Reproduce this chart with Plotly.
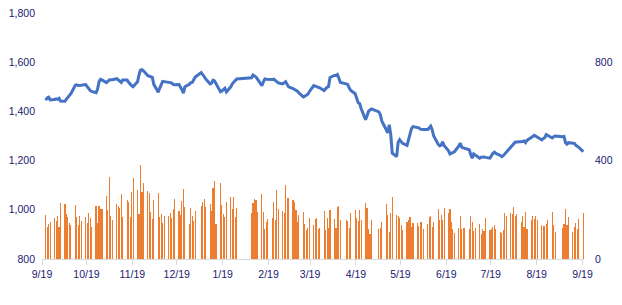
import pandas as pd
import plotly.graph_objects as go

# ---- data -------------------------------------------------------------
start_date = "2021-09-21"
end_date = "2022-09-19"
holidays = ["2022-01-03", "2022-01-31", "2022-02-01", "2022-02-02", "2022-02-03",
            "2022-02-04", "2022-04-11", "2022-05-02", "2022-05-03",
            "2022-09-01", "2022-09-02"]

# index level (left axis), one row per trading week
index_close = [
    1445, 1455, 1458, 1447,
    1448, 1451, 1449, 1453, 1442,
    1441, 1450, 1458, 1464, 1472,
    1506, 1508, 1505, 1505, 1506,
    1509, 1501, 1490, 1485, 1481,
    1476, 1490, 1520, 1530, 1528,
    1517, 1522, 1528, 1529, 1529,
    1533, 1528, 1520, 1518, 1528,
    1528, 1518, 1510, 1505, 1500,
    1520, 1548, 1568, 1570, 1565,
    1545, 1542, 1541, 1538, 1510,
    1478, 1495, 1510, 1522, 1521,
    1519, 1518, 1516, 1510, 1508,
    1509, 1500, 1488, 1474, 1500,
    1510, 1517, 1518, 1530, 1540,
    1558, 1552, 1542, 1532,
    1512, 1515, 1527, 1524, 1512,
    1480, 1483, 1490, 1494, 1479,
    1500, 1512, 1518, 1525, 1532,
    1537, 1548, 1544, 1540, 1531,
    1505, 1520, 1532, 1531, 1530,
    1530, 1531, 1525, 1522, 1516,
    1512, 1518, 1521, 1510, 1500,
    1493, 1490, 1488, 1482, 1475,
    1459, 1462, 1466, 1470, 1480,
    1505, 1503, 1501, 1496, 1496,
    1485, 1492, 1498, 1501, 1538,
    1546, 1546, 1550, 1531, 1518,
    1512, 1509, 1495, 1485,
    1472, 1450, 1435, 1432, 1412,
    1366, 1385, 1400, 1406, 1410,
    1398, 1386, 1360,
    1329, 1313, 1346, 1306, 1230,
    1216, 1274, 1285, 1277, 1270,
    1262, 1288, 1307, 1330, 1338,
    1336, 1333, 1328, 1326, 1326,
    1326, 1333, 1340, 1325, 1300,
    1267, 1260, 1262, 1276, 1262,
    1240, 1227, 1230, 1236, 1236,
    1260, 1271, 1254, 1252, 1250,
    1244, 1225, 1210, 1227, 1223,
    1210, 1214, 1216, 1215, 1213,
    1210, 1220, 1230, 1234, 1229,
    1221, 1216, 1220, 1227, 1234,
    1258, 1263, 1270, 1275, 1276,
    1276, 1278, 1280, 1273, 1282,
    1295, 1300, 1303, 1299, 1295,
    1284, 1290, 1293, 1306, 1302,
    1292, 1297, 1300,
    1297, 1298, 1273, 1267, 1273,
    1273, 1270, 1262, 1258, 1254,
    1236,
]

# traded volume (right axis)
volume = [
    180, 130, 144, 152,
    168, 156, 176, 132, 227,
    222, 184, 172, 148, 140,
    220, 172, 140, 176, 156,
    172, 148, 188, 168, 132,
    216, 148, 216, 204, 204,
    255, 200, 335, 176, 160,
    224, 216, 208, 263, 172,
    239, 231, 172, 271, 331,
    279, 184, 383, 271, 307,
    275, 267, 192, 164, 239,
    267, 172, 184, 148, 176,
    176, 188, 168, 204, 243,
    196, 180, 236, 283, 212,
    144, 207, 176, 156, 196,
    215, 231, 243, 212,
    223, 196, 287, 319, 144,
    307, 220, 184, 172, 231,
    251, 203, 251, 172, 207,
    188, 227, 243, 239, 192,
    263, 192, 124, 152, 164,
    168, 231, 160, 279, 203,
    196, 188, 299, 247, 247,
    239, 231, 200, 152, 180,
    192, 144, 116, 128, 168,
    140, 164, 168, 120, 128,
    196, 116, 168, 128, 200,
    164, 128, 212, 216, 160,
    160, 156, 128, 188,
    200, 168, 156, 200, 160,
    228, 208, 120, 100, 160,
    120, 128, 152,
    224, 180, 108, 188, 251,
    180, 176, 168, 140, 116,
    152, 160, 172, 132, 148,
    148, 136, 152, 152, 120,
    144, 172, 176, 132, 152,
    204, 160, 180, 160, 208,
    188, 204, 152, 120, 104,
    128, 176, 124, 128, 128,
    120, 176, 152, 112, 128,
    144, 100, 124, 112, 168,
    116, 124, 132, 140, 120,
    108, 104, 116, 188, 176,
    188, 184, 212, 176, 184,
    152, 176, 132, 192, 124,
    160, 176, 164, 176, 160,
    140, 136, 136, 144, 160,
    192, 140, 108,
    128, 144, 204, 140, 172,
    108, 132, 148, 120, 164,
    188,
]

tick_dates = ["2021-09-19", "2021-10-19", "2021-11-19", "2021-12-19", "2022-01-19",
              "2022-02-19", "2022-03-19", "2022-04-19", "2022-05-19", "2022-06-19",
              "2022-07-19", "2022-08-19", "2022-09-19"]
tick_labels = ["9/19", "10/19", "11/19", "12/19", "1/19", "2/19", "3/19",
               "4/19", "5/19", "6/19", "7/19", "8/19", "9/19"]
left_ticks = [800, 1000, 1200, 1400, 1600, 1800]
right_ticks = [0, 400, 800]

# ---- build ------------------------------------------------------------
days = pd.bdate_range(start_date, end_date)
days = days[~days.isin(pd.to_datetime(holidays))]
assert len(days) == len(index_close) == len(volume), (len(days), len(index_close), len(volume))

DAY_MS = 86400000
text_color = "#202070"
font = dict(family="Liberation Sans, Arial, sans-serif", size=10.5, color=text_color)

fig = go.Figure()
fig.add_trace(go.Bar(
    x=days, y=volume, yaxis="y2",
    xperiod=DAY_MS, xperiodalignment="middle",
    width=0.08 * DAY_MS,
    marker=dict(color="#ED7D31", line=dict(width=0)),
    showlegend=False, hoverinfo="x+y",
))
fig.add_trace(go.Scatter(
    x=days, y=index_close, mode="lines",
    xperiod=DAY_MS, xperiodalignment="middle",
    line=dict(color="#4472C4", width=3),
    showlegend=False,
))

fig.update_layout(
    width=622, height=305,
    margin=dict(l=42, r=38, t=7, b=46, pad=0),
    paper_bgcolor="white", plot_bgcolor="white",
    font=font,
    bargap=0,
    xaxis=dict(
        type="date", range=["2021-09-19", "2022-09-20"],
        tickmode="array", tickvals=tick_dates, ticktext=tick_labels,
        ticks="outside", ticklen=5, tickcolor="#D9D9D9", tickwidth=1,
        showline=True, linecolor="#D9D9D9", linewidth=1,
        showgrid=False, zeroline=False, tickfont=font,
    ),
    yaxis=dict(
        range=[800, 1800], tickmode="array", tickvals=left_ticks,
        tickformat=",", showgrid=False, zeroline=False, showline=False,
        ticks="", ticklabelstandoff=6, tickfont=font,
    ),
    yaxis2=dict(
        range=[0, 1000], tickmode="array", tickvals=right_ticks,
        overlaying="y", side="right",
        showgrid=False, zeroline=False, showline=False,
        ticks="", ticklabelstandoff=10, tickfont=font,
    ),
)

fig.write_html("out.html")
